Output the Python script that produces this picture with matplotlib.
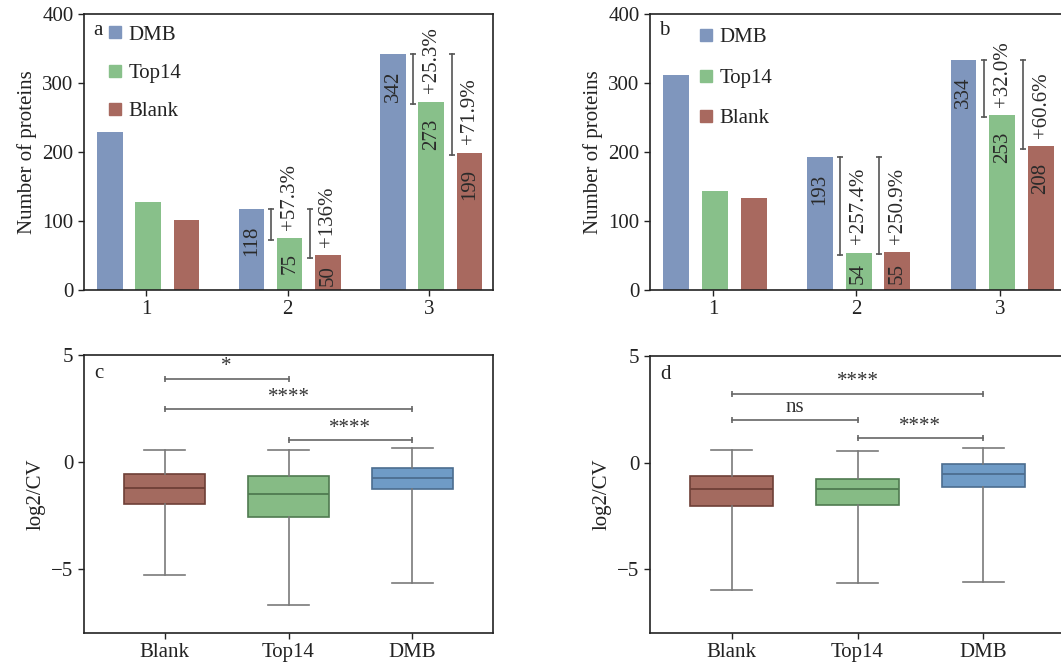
import numpy as np
import matplotlib
matplotlib.use('Agg')
import matplotlib.pyplot as plt
from matplotlib.lines import Line2D

plt.rcParams['font.family'] = ['Liberation Serif', 'DejaVu Serif']
plt.rcParams['font.size'] = 15
plt.rcParams['text.color'] = '#222222'
plt.rcParams['axes.labelcolor'] = '#222222'
plt.rcParams['xtick.color'] = '#222222'
plt.rcParams['ytick.color'] = '#222222'

# ---- data ----
groups = [1, 2, 3]
series = ['DMB', 'Top14', 'Blank']

a_dmb = [229, 118, 342]
a_top14 = [128, 75, 273]
a_blank = [101, 50, 199]
a_labels_top14 = [None, '+57.3%', '+25.3%']
a_labels_blank = [None, '+136%', '+71.9%']

b_dmb = [311, 193, 334]
b_top14 = [144, 54, 253]
b_blank = [134, 55, 208]
b_labels_top14 = [None, '+257.4%', '+32.0%']
b_labels_blank = [None, '+250.9%', '+60.6%']

box_cats = ['Blank', 'Top14', 'DMB']
# whislo, q1, med, q3, whishi
c_whislo = [-5.29, -6.70, -5.65]
c_q1 = [-1.98, -2.57, -1.26]
c_med = [-1.21, -1.52, -0.73]
c_q3 = [-0.57, -0.68, -0.28]
c_whishi = [0.58, 0.58, 0.67]
c_sig = [(0, 1, 3.9, '*'), (0, 2, 2.46, '****'), (1, 2, 1.01, '****')]

d_whislo = [-5.96, -5.67, -5.62]
d_q1 = [-2.06, -2.00, -1.17]
d_med = [-1.26, -1.26, -0.54]
d_q3 = [-0.65, -0.75, -0.07]
d_whishi = [0.61, 0.55, 0.69]
d_sig = [(0, 2, 3.24, '****'), (0, 1, 2.01, 'ns'), (1, 2, 1.14, '****')]

bar_colors = {'DMB': '#7f96bd', 'Top14': '#88c08a', 'Blank': '#a8695f'}
box_face = ['#a36a5f', '#86bb85', '#6f9bc6']
box_edge = ['#6e3f37', '#4f7a50', '#4c6d8f']

fig = plt.figure(figsize=(10.61, 6.67), dpi=100)
W, H = 1061, 667


def add_ax(left, top, right, bottom):
    return fig.add_axes([left / W, 1 - bottom / H, (right - left) / W, (bottom - top) / H])


def style(ax):
    for s in ax.spines.values():
        s.set_linewidth(1.2)
        s.set_color('#222222')
    ax.tick_params(direction='out', length=4, width=1.0)


def bar_panel(ax, dmb, top14, blank, lab_t, lab_b, letter, leg_anchor, leg_space):
    x = np.array(groups, dtype=float)
    offs = [-0.255, 0.015, 0.285]
    width = 0.18
    for off, name, vals in zip(offs, series, [dmb, top14, blank]):
        ax.bar(x + off, vals, width, color=bar_colors[name], label=name)
        for xi, v in zip(x + off, vals):
            if xi < 1.5:
                continue
            ax.text(xi, v - min(24, 0.28 * v), str(v), rotation=90, ha='center', va='top',
                    fontsize=15, color='#2a2a2a')
    for i in range(len(groups)):
        for off_b, off_t, other, labs in [(-0.115, 0.015, top14, lab_t), (0.16, 0.285, blank, lab_b)]:
            if labs[i] is None:
                continue
            ax.plot([x[i] + off_b] * 2, [dmb[i], other[i] - 3], color='#555555', lw=1.2,
                    marker='_', ms=5, mew=1.2)
            ax.text(x[i] + off_t, other[i] + 12, labs[i], rotation=90, ha='center', va='bottom',
                    fontsize=15, color='#2a2a2a')
    ax.set_xlim(0.562, 3.452)
    ax.set_ylim(0, 400)
    ax.set_xticks(groups)
    ax.set_yticks([0, 100, 200, 300, 400])
    ax.set_ylabel('Number of proteins', fontsize=15)
    ax.text(0.022, 0.94, letter, transform=ax.transAxes, ha='left', va='center', fontsize=15)
    handles = [Line2D([], [], marker='s', ls='', ms=8, color=bar_colors[n]) for n in series]
    ax.legend(handles, series, loc='upper left', bbox_to_anchor=leg_anchor, frameon=False,
              handlelength=0.8, handletextpad=0.25, labelspacing=leg_space, fontsize=15,
              borderaxespad=0.2)
    style(ax)


def box_panel(ax, whislo, q1, med, q3, whishi, sig, letter):
    stats = []
    for i in range(len(box_cats)):
        stats.append({'whislo': whislo[i], 'q1': q1[i], 'med': med[i], 'q3': q3[i],
                      'whishi': whishi[i], 'fliers': []})
    bp = ax.bxp(stats, positions=range(len(box_cats)), widths=0.66, capwidths=0.33,
                patch_artist=True, showfliers=False,
                whiskerprops=dict(color='#7a7a7a', lw=1.2),
                capprops=dict(color='#7a7a7a', lw=1.2))
    for i, p in enumerate(bp['boxes']):
        p.set_facecolor(box_face[i])
        p.set_edgecolor(box_edge[i])
        p.set_linewidth(1.2)
    for i, m in enumerate(bp['medians']):
        m.set_color(box_edge[i])
        m.set_linewidth(1.3)
    for x1, x2, y, t in sig:
        ax.plot([x1, x2], [y, y], color='#666666', lw=1.2, marker='|', ms=5, mew=1.2)
        ax.text((x1 + x2) / 2, y + 0.12, t, ha='center', va='bottom', fontsize=15, color='#333333')
    ax.set_xlim(-0.65, 2.65)
    ax.set_ylim(-8, 5)
    ax.set_xticks(range(len(box_cats)))
    ax.set_xticklabels(box_cats)
    ax.set_yticks([-5, 0, 5])
    ax.set_ylabel('log2/CV', fontsize=15)
    ax.text(0.025, 0.935, letter, transform=ax.transAxes, ha='left', va='center', fontsize=15)
    style(ax)


ax_a = add_ax(84, 14, 493, 290)
ax_b = add_ax(650, 14, 1065, 290)
ax_c = add_ax(84, 355, 493, 633)
ax_d = add_ax(650, 356, 1065, 633)

bar_panel(ax_a, a_dmb, a_top14, a_blank, a_labels_top14, a_labels_blank, 'a', (0.025, 1.005), 0.9)
bar_panel(ax_b, b_dmb, b_top14, b_blank, b_labels_top14, b_labels_blank, 'b', (0.085, 0.995), 1.0)
box_panel(ax_c, c_whislo, c_q1, c_med, c_q3, c_whishi, c_sig, 'c')
box_panel(ax_d, d_whislo, d_q1, d_med, d_q3, d_whishi, d_sig, 'd')

fig.savefig('out.png', dpi=100)
